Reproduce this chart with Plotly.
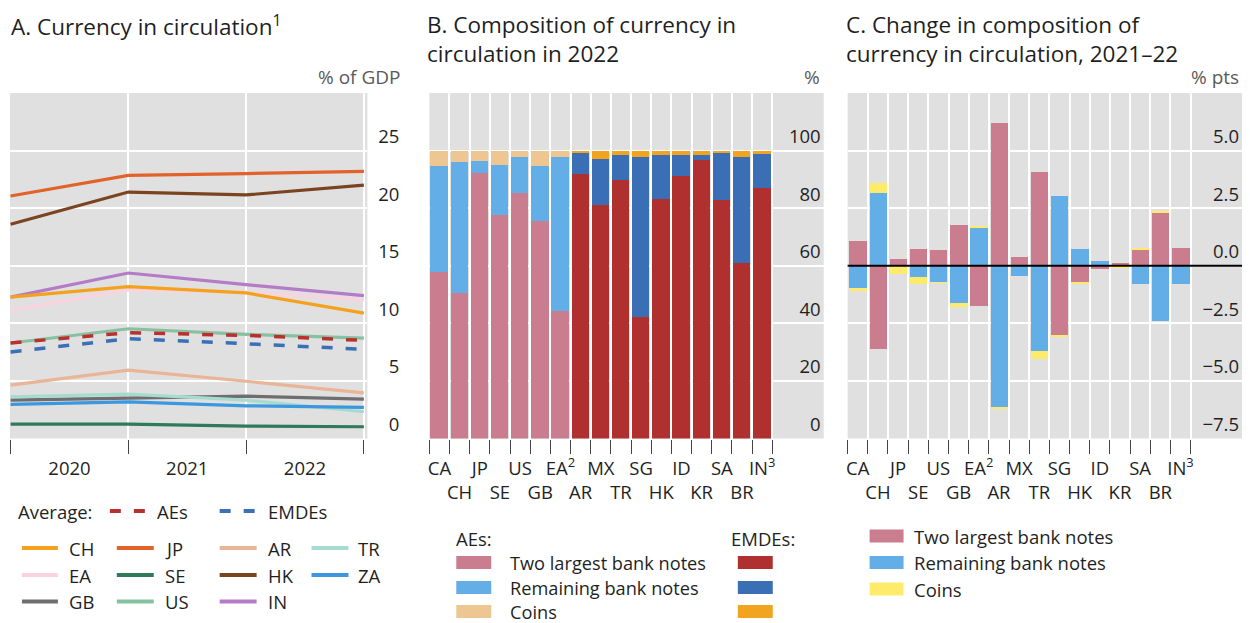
import plotly.graph_objects as go

# The page body has an 8px margin, so the figure is drawn 8px in from the page corner.
OX, OY = 8, 8
FW, FH = 1250 - OX, 623 - OY
FONT = "Open Sans"

# ---------------- Panel A data ----------------
period_edges = [2020, 2021, 2022, 2023]          # point positions (period boundaries)
year_labels = ["2020", "2021", "2022"]
year_label_pos = [2020.5, 2021.5, 2022.5]

ch = [12.27, 13.19, 12.64, 10.88]
jp = [21.06, 22.85, 23.0, 23.2]
ar = [4.63, 5.93, 4.97, 3.96]
tr = [3.62, 3.85, 3.33, 2.32]
ea = [11.12, 12.9, 12.7, 12.04]
se = [1.25, 1.25, 1.08, 1.02]
hk = [18.6, 21.4, 21.15, 22.0]
za = [2.96, 3.18, 2.84, 2.70]
gb = [3.33, 3.53, 3.68, 3.42]
us = [8.29, 9.53, 9.04, 8.72]
inn = [12.27, 14.37, 13.36, 12.41]
avg_aes = [8.3, 9.19, 8.95, 8.52]
avg_emdes = [7.51, 8.67, 8.23, 7.74]

# ---------------- Panel B / C data ----------------
countries = ["CA", "CH", "JP", "SE", "US", "GB", "EA", "AR", "MX", "TR",
             "SG", "HK", "ID", "KR", "SA", "BR", "IN"]
country_labels = ["CA", "CH", "JP", "SE", "US", "GB", "EA<sup>2</sup>", "AR", "MX", "TR",
                  "SG", "HK", "ID", "KR", "SA", "BR", "IN<sup>3</sup>"]
is_ae = [True] * 7 + [False] * 10

two_largest_2022 = [57.8, 50.5, 92.3, 77.7, 85.2, 75.6, 44.2, 91.7, 81.2, 89.8,
                    42.3, 83.3, 91.3, 96.7, 82.7, 60.9, 87.0]
remaining_2022 = [36.7, 45.5, 4.0, 17.4, 12.5, 19.1, 53.6, 7.8, 15.9, 8.8,
                  55.4, 15.3, 7.3, 1.9, 16.5, 36.8, 11.8]
coins_2022 = [5.5, 4.0, 3.7, 4.9, 2.3, 5.3, 2.2, 0.5, 2.9, 1.4,
              2.3, 1.4, 1.4, 1.4, 0.8, 2.3, 1.2]

two_largest_chg = [1.07, -3.61, 0.30, 0.72, 0.69, 1.77, -1.74, 6.21, 0.40, 4.06,
                   -3.03, -0.74, -0.16, 0.13, 0.69, 2.31, 0.78]
remaining_chg = [-0.95, 3.17, 0.0, -0.49, -0.72, -1.61, 1.67, -6.14, -0.43, -3.70,
                 3.04, 0.74, 0.19, 0.0, -0.81, -2.39, -0.81]
coins_chg = [-0.14, 0.42, -0.35, -0.29, -0.02, -0.20, 0.04, -0.09, 0.0, -0.36,
             -0.06, -0.04, 0.0, -0.10, 0.09, 0.06, 0.0]

# ---------------- styles ----------------
C_AE_TWO, C_AE_REM, C_AE_COIN = "#C97D8F", "#64AEE8", "#EDC692"
C_EM_TWO, C_EM_REM, C_EM_COIN = "#B03030", "#3A6FB6", "#F2A31F"
C_COIN_CHG = "#FFEB6B"
BG = "#E0E0E0"
TXT = "#1f1f1f"
UNIT = "#5a5a5a"

line_styles = [
    ("CH", ch, "#F4A11E"), ("JP", jp, "#E2632A"), ("AR", ar, "#E8B596"), ("TR", tr, "#A6DCCF"),
    ("EA", ea, "#FAD3DE"), ("SE", se, "#2F7A5A"), ("HK", hk, "#7B4420"), ("ZA", za, "#3D97DE"),
    ("GB", gb, "#6E6E70"), ("US", us, "#86C2A2"), ("IN", inn, "#B47CC7"),
]
draw_order = ["EA", "IN", "CH", "JP", "HK", "AR", "GB", "TR", "ZA", "SE", "US"]
col_of = {n: c for n, _, c in line_styles}
val_of = {n: v for n, v, _ in line_styles}

def px(x):
    return (x - OX) / FW

def py(y):
    return 1 - (y - OY) / FH

fig = go.Figure()

# Panel A lines
for name in draw_order:
    fig.add_trace(go.Scatter(x=period_edges, y=val_of[name], mode="lines", name=name,
                             line=dict(color=col_of[name], width=3.2), xaxis="x", yaxis="y",
                             showlegend=False))
fig.add_trace(go.Scatter(x=period_edges, y=avg_aes, mode="lines", name="AEs",
                         line=dict(color="#B8302F", width=3.5, dash="11px,13px"),
                         xaxis="x", yaxis="y", showlegend=False))
fig.add_trace(go.Scatter(x=period_edges, y=avg_emdes, mode="lines", name="EMDEs",
                         line=dict(color="#3B6FB6", width=3.5, dash="11px,13px"),
                         xaxis="x", yaxis="y", showlegend=False))

# Panel B bars
pos = list(range(len(countries)))
BW = 0.86
fig.add_trace(go.Bar(x=pos, y=two_largest_2022, width=BW, name="Two largest bank notes",
                     marker=dict(color=[C_AE_TWO if a else C_EM_TWO for a in is_ae], line_width=0),
                     xaxis="x2", yaxis="y2", showlegend=False))
fig.add_trace(go.Bar(x=pos, y=remaining_2022, width=BW, name="Remaining bank notes",
                     marker=dict(color=[C_AE_REM if a else C_EM_REM for a in is_ae], line_width=0),
                     xaxis="x2", yaxis="y2", showlegend=False))
fig.add_trace(go.Bar(x=pos, y=coins_2022, width=BW, name="Coins",
                     marker=dict(color=[C_AE_COIN if a else C_EM_COIN for a in is_ae], line_width=0),
                     xaxis="x2", yaxis="y2", showlegend=False))

# Panel C bars
fig.add_trace(go.Bar(x=pos, y=two_largest_chg, width=BW, name="Two largest bank notes",
                     marker=dict(color=C_AE_TWO, line_width=0), xaxis="x3", yaxis="y3", showlegend=False))
fig.add_trace(go.Bar(x=pos, y=remaining_chg, width=BW, name="Remaining bank notes",
                     marker=dict(color=C_AE_REM, line_width=0), xaxis="x3", yaxis="y3", showlegend=False))
fig.add_trace(go.Bar(x=pos, y=coins_chg, width=BW, name="Coins",
                     marker=dict(color=C_COIN_CHG, line_width=0), xaxis="x3", yaxis="y3", showlegend=False))

ydom = [py(438.5), py(93)]
tickfont = dict(family=FONT, size=18.5, color=TXT)

def cat_axis(dom, anchor):
    return dict(domain=dom, anchor=anchor, range=[-0.5, 19.05], tickmode="array",
                tickvals=pos,
                ticktext=[lab if i % 2 == 0 else "<br>" + lab for i, lab in enumerate(country_labels)],
                ticks="", tickangle=0, showgrid=False, zeroline=False, showline=False,
                tickfont=tickfont, ticklabelstandoff=17,
                minor=dict(tickmode="array", tickvals=[p - 0.5 for p in pos] + [pos[-1] + 0.5],
                           ticks="outside", ticklen=14, tickcolor="#444", tickwidth=1.3,
                           showgrid=True, gridcolor="white", gridwidth=2))

def val_axis(anchor, rng, tv, tt):
    return dict(domain=ydom, anchor=anchor, side="right", range=rng, tickmode="array",
                tickvals=tv, ticktext=tt, ticklabelposition="inside", ticklabelshift=-14,
                ticklabeloverflow="allow",
                ticks="", showgrid=True, gridcolor="white", gridwidth=2, zeroline=False,
                showline=False, tickfont=tickfont)

fig.update_layout(
    width=FW, height=FH, margin=dict(l=0, r=0, t=0, b=0),
    paper_bgcolor="white", plot_bgcolor=BG, barmode="relative", bargap=0,
    font=dict(family=FONT, size=18, color=TXT),
    xaxis=dict(domain=[px(8), px(366)], anchor="y", range=[2019.995, 2023.03],
               tickmode="array", tickvals=year_label_pos, ticktext=year_labels,
               ticks="", tickangle=0, showgrid=False, zeroline=False, showline=False,
               tickfont=tickfont, ticklabelstandoff=17,
               minor=dict(tickmode="array", tickvals=period_edges, ticks="outside", ticklen=14,
                          tickcolor="#444", tickwidth=1.3, showgrid=True, gridcolor="white",
                          gridwidth=2)),
    yaxis=dict(domain=ydom, anchor="free", position=px(401), side="right", range=[0, 30],
               tickmode="array", tickvals=[0, 5, 10, 15, 20, 25],
               ticktext=["0", "5", "10", "15", "20", "25"],
               ticklabelposition="inside", ticklabelshift=-14, ticklabeloverflow="allow",
               ticks="", showgrid=True, gridcolor="white", gridwidth=2, zeroline=False,
               showline=False, tickfont=tickfont),
    xaxis2=cat_axis([px(428), px(823)], "y2"),
    yaxis2=val_axis("x2", [0, 120], [0, 20, 40, 60, 80, 100], ["0", "20", "40", "60", "80", "100"]),
    xaxis3=cat_axis([px(847), px(1242)], "y3"),
    yaxis3=val_axis("x3", [-7.5, 7.5], [-7.5, -5, -2.5, 0, 2.5, 5],
                    ["\u22127.5", "\u22125.0", "\u22122.5", "0.0", "2.5", "5.0"]),
)

shapes = []
annotations = []

# zero line panel C
shapes.append(dict(type="line", xref="x3 domain", yref="y3", x0=0, x1=1, y0=0, y1=0,
                   line=dict(color="black", width=2), layer="above"))

def ann(text, x, y, size=18.5, color=TXT, xanchor="left", yanchor="middle", align="left", pad=1):
    annotations.append(dict(text=text, x=px(x), y=py(y), xref="paper", yref="paper",
                            showarrow=False, xanchor=xanchor, yanchor=yanchor, align=align,
                            borderpad=pad, font=dict(family=FONT, size=size, color=color)))

# titles
ann("A. Currency in circulation<sup>1</sup>", 8, 8, size=22.5, yanchor="top", pad=0)
ann("B. Composition of currency in<br>circulation in 2022", 425, 8, size=22.5, yanchor="top", pad=0)
ann("C. Change in composition of<br>currency in circulation, 2021\u201322", 844, 8, size=22.5, yanchor="top", pad=0)

# unit labels
ann("% of GDP", 401, 77, size=19, color=UNIT, xanchor="right")
ann("%", 821, 77, size=19, color=UNIT, xanchor="right")
ann("% pts", 1241, 77, size=19, color=UNIT, xanchor="right")

# ---- Panel A legend ----
def line_sample(x0, x1, y, color, dash="solid", width=4):
    shapes.append(dict(type="line", xref="paper", yref="paper", x0=px(x0), x1=px(x1),
                       y0=py(y), y1=py(y), line=dict(color=color, width=width, dash=dash)))

ann("Average:", 14, 511)
line_sample(108, 146, 511, "#B8302F", dash="11px,13px")
ann("AEs", 153, 511)
line_sample(218, 256, 511, "#3B6FB6", dash="11px,13px")
ann("EMDEs", 264, 511)

legend_grid = [
    [("CH", 0), ("EA", 1), ("GB", 2)],
    [("JP", 0), ("SE", 1), ("US", 2)],
    [("AR", 0), ("HK", 1), ("IN", 2)],
    [("TR", 0), ("ZA", 1)],
]
col_x = [(20, 56, 65), (115, 152, 161), (218, 255, 264), (310, 347, 355)]
row_y = [548, 575, 601.5]
for ci, col in enumerate(legend_grid):
    for name, ri in col:
        x0, x1, xt = col_x[ci]
        line_sample(x0, x1, row_y[ri], col_of[name])
        ann(name, xt, row_y[ri])

# ---- Panel B legend ----
def rect_sample(x0, x1, y, color, h=13):
    shapes.append(dict(type="rect", xref="paper", yref="paper", x0=px(x0), x1=px(x1),
                       y0=py(y - h / 2), y1=py(y + h / 2), line=dict(width=0), fillcolor=color))

ann("AEs:", 453, 538)
ann("EMDEs:", 728, 538)
b_rows = [562.5, 587.5, 611.5]
for (lab, cae, cem), y in zip([("Two largest bank notes", C_AE_TWO, C_EM_TWO),
                               ("Remaining bank notes", C_AE_REM, C_EM_REM),
                               ("Coins", C_AE_COIN, C_EM_COIN)], b_rows):
    rect_sample(455, 490, y, cae)
    ann(lab, 508, y, size=18.2, pad=0)
    rect_sample(737, 772, y, cem)

# ---- Panel C legend ----
c_rows = [536, 562.5, 589]
for (lab, c), y in zip([("Two largest bank notes", C_AE_TWO),
                        ("Remaining bank notes", C_AE_REM),
                        ("Coins", C_COIN_CHG)], c_rows):
    rect_sample(869, 903, y, c)
    ann(lab, 911, y)

fig.update_layout(shapes=shapes, annotations=annotations)
fig.write_html("out.html")
